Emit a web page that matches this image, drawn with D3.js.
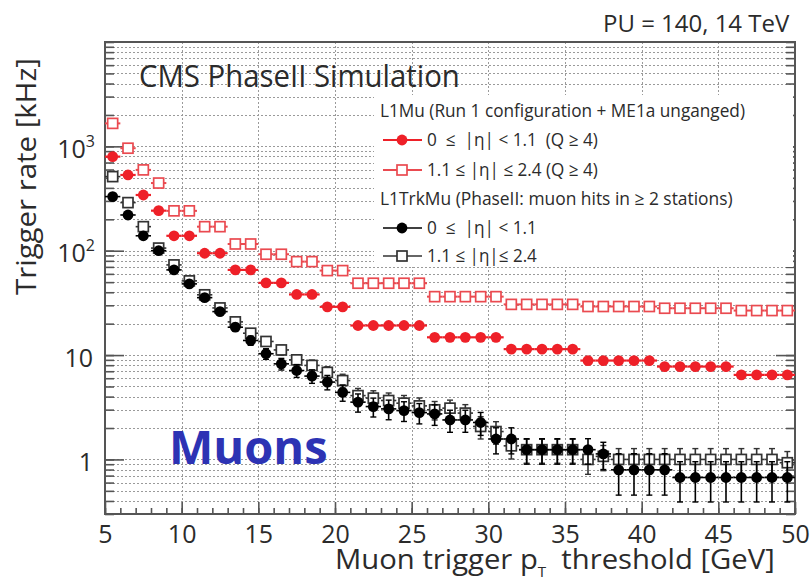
<!DOCTYPE html>
<html><head><meta charset="utf-8">
<script src="https://cdn.jsdelivr.net/npm/d3@7"></script>
<style>
body{margin:0;background:#fff}
svg{display:block}
text{font-family:"Open Sans",sans-serif;fill:#2b2b2b;white-space:pre}
</style>
</head><body>
<svg id="c" width="811" height="584"></svg>
<script>
// ---- data ----
const ptBins = [5.5,6.5,7.5,8.5,9.5,10.5,11.5,12.5,13.5,14.5,15.5,16.5,17.5,18.5,19.5,20.5,21.5,22.5,23.5,24.5,25.5,26.5,27.5,28.5,29.5,30.5,31.5,32.5,33.5,34.5,35.5,36.5,37.5,38.5,39.5,40.5,41.5,42.5,43.5,44.5,45.5,46.5,47.5,48.5,49.5];
const l1muLow = [797,532,342,242,139,139,94.6,94.6,65.5,65.5,49.2,49.2,38.1,38.1,29.0,29.0,19.2,19.2,19.2,19.2,19.2,14.8,14.8,14.8,14.8,14.8,11.4,11.4,11.4,11.4,11.4,8.86,8.86,8.86,8.86,8.86,7.76,7.76,7.76,7.76,7.76,6.46,6.46,6.46,6.46];
const l1muHigh = [1660,960,595,445,241,241,170,170,116,116,92.5,92.5,78.6,78.6,64.5,64.5,48.8,48.8,48.8,48.8,48.8,36.3,36.3,36.3,36.3,36.3,30.6,30.6,30.6,30.6,30.6,29.2,29.2,29.2,29.2,29.2,28.1,28.1,28.1,28.1,28.1,26.7,26.7,26.7,26.7];
const trkLow = [330,220,139,100,65.5,48.1,35.5,26.1,18.5,13.8,10.3,8.24,7.11,6.29,5.51,4.39,3.54,3.21,3.05,2.94,2.81,2.73,2.39,2.39,2.26,1.57,1.57,1.24,1.24,1.24,1.24,1.24,1.13,0.795,0.795,0.795,0.795,0.671,0.671,0.671,0.671,0.671,0.671,0.671,0.671];
const trkLowErr = [6.7,5.5,4.4,3.7,3.0,2.6,2.2,1.9,1.6,1.4,1.2,1.05,1.0,0.93,0.87,0.78,0.7,0.66,0.65,0.63,0.62,0.61,0.57,0.57,0.56,0.44,0.44,0.34,0.34,0.34,0.34,0.34,0.33,0.34,0.34,0.34,0.34,0.28,0.28,0.28,0.28,0.28,0.28,0.28,0.28];
const trkHigh = [513,289,170,106,73.1,51.4,37.8,28.3,20.8,16.2,13.5,11.2,9.0,7.96,6.83,5.70,4.09,3.87,3.67,3.46,3.26,2.99,3.10,2.78,2.07,1.85,1.35,1.24,1.24,1.24,1.24,1.0,1.07,1.0,1.0,1.0,1.0,1.0,1.0,1.0,1.0,1.0,1.0,1.0,0.93];
const trkHighErr = [8,6,4.7,3.7,3.1,2.6,2.2,1.9,1.6,1.4,1.3,1.2,1.05,1.0,0.9,0.85,0.7,0.68,0.66,0.64,0.62,0.6,0.6,0.57,0.5,0.45,0.34,0.32,0.32,0.32,0.32,0.28,0.29,0.27,0.27,0.27,0.27,0.27,0.27,0.27,0.27,0.27,0.27,0.27,0.26];
const xTicks = [5,10,15,20,25,30,35,40,45,50];
const yMajor = [1,10,100,1000];
const yMajorExp = [0,1,2,3];
const legendHeaders = ["L1Mu (Run 1 configuration + ME1a unganged)","L1TrkMu (PhaseII: muon hits in \u2265 2 stations)"];
const legendLabels = ["0  \u2264  |\u03b7| < 1.1  (Q \u2265 4)","1.1 \u2264 |\u03b7| \u2264 2.4 (Q \u2265 4)","0  \u2264  |\u03b7| < 1.1","1.1 \u2264 |\u03b7|\u2264 2.4"];

// ---- setup ----
const RED = "#ee2028", RED_OPEN = "#ea4a50", BLK = "#000", BLK_OPEN = "#333";
const svg = d3.select("#c");
const L = 105, R = 795, T = 42, B = 514;
const x = d3.scaleLinear().domain([5,50]).range([L,R]);
const y = d3.scaleLog().domain([0.3,10000]).range([B,T]);

function fitX(sel, x0, x1){
  const b = sel.node().getBBox();
  const sx = (x1-x0)/b.width;
  sel.attr("transform", `translate(${x0 - sx*b.x},0) scale(${sx},1)`);
}

svg.append("defs").append("clipPath").attr("id","pc")
  .append("rect").attr("x",L).attr("y",T).attr("width",R-L).attr("height",B-T);

// ---- grid ----
const grid = svg.append("g").attr("stroke","#9a9a9a").attr("stroke-width",1).attr("stroke-dasharray","2,2");
grid.selectAll("line.h").data(y.ticks()).join("line")
  .attr("x1",L).attr("x2",R).attr("y1",d=>Math.round(y(d))+0.5).attr("y2",d=>Math.round(y(d))+0.5);
grid.selectAll("line.v").data(xTicks.slice(1,-1)).join("line")
  .attr("y1",T).attr("y2",B).attr("x1",d=>Math.round(x(d))+0.5).attr("x2",d=>Math.round(x(d))+0.5);

// ---- axes ----
const axCol = "#555";
const minorX = x.ticks(45);
const gxMinor = svg.append("g").attr("transform",`translate(0,${B})`)
  .call(d3.axisBottom(x).tickValues(minorX).tickSize(-6).tickFormat(""));
const gx = svg.append("g").attr("transform",`translate(0,${B})`)
  .call(d3.axisBottom(x).tickValues(xTicks).tickSize(-12).tickPadding(11));
gx.selectAll("text").attr("font-size",25).attr("font-family","Open Sans").attr("fill","#2b2b2b");

const yTicksAll = y.ticks();
const gyMinor = svg.append("g").attr("transform",`translate(${L},0)`)
  .call(d3.axisLeft(y).tickValues(yTicksAll).tickSize(-9).tickFormat(""));
const gy = svg.append("g").attr("transform",`translate(${L},0)`)
  .call(d3.axisLeft(y).tickValues(yMajor).tickSize(-19).tickFormat(""));
const gyrMinor = svg.append("g").attr("transform",`translate(${R},0)`)
  .call(d3.axisRight(y).tickValues(yTicksAll).tickSize(-9).tickFormat(""));
const gyr = svg.append("g").attr("transform",`translate(${R},0)`)
  .call(d3.axisRight(y).tickValues(yMajor).tickSize(-19).tickFormat(""));
[gxMinor,gx,gyMinor,gy,gyrMinor,gyr].forEach(g=>{
  g.select(".domain").remove();
  g.selectAll("line").attr("stroke",axCol).attr("stroke-width",1.6);
});

// y labels
const yl = svg.append("g");
yMajor.forEach((v,i)=>{
  const e = yMajorExp[i];
  const t = yl.append("text").attr("text-anchor","end").attr("font-size",25)
    .attr("y", y(v)+11.5);
  if (e >= 2) {
    t.attr("x", L-10);
    t.append("tspan").text("10");
    t.append("tspan").attr("font-size",16).attr("dy",-11).text(String(e));
  } else {
    t.attr("x", L-12).text(e===1 ? "10" : "1");
  }
});

// frame
svg.append("rect").attr("x",L).attr("y",T).attr("width",R-L).attr("height",B-T)
  .attr("fill","none").attr("stroke",axCol).attr("stroke-width",2);

// ---- data ----
const plot = svg.append("g").attr("clip-path","url(#pc)");
function series(vals, errs, color, open, lw){
  const g = plot.append("g");
  const pts = ptBins.map((b,i)=>({b, v:vals[i], e: errs ? errs[i] : 0}));
  g.selectAll("line.hx").data(pts).join("line")
    .attr("x1",d=>x(d.b-0.5)).attr("x2",d=>x(d.b+0.5))
    .attr("y1",d=>y(d.v)).attr("y2",d=>y(d.v))
    .attr("stroke",color).attr("stroke-width",lw);
  if (errs){
    const lo = d=>y(Math.max(d.v-d.e,0.05)), hi = d=>y(d.v+d.e);
    g.selectAll("line.vy").data(pts).join("line")
      .attr("x1",d=>x(d.b)).attr("x2",d=>x(d.b)).attr("y1",hi).attr("y2",lo)
      .attr("stroke",color).attr("stroke-width",1.6);
    g.selectAll("line.cap1").data(pts).join("line")
      .attr("x1",d=>x(d.b)-3).attr("x2",d=>x(d.b)+3).attr("y1",hi).attr("y2",hi)
      .attr("stroke",color).attr("stroke-width",1.4);
    g.selectAll("line.cap2").data(pts).join("line")
      .attr("x1",d=>x(d.b)-3).attr("x2",d=>x(d.b)+3).attr("y1",lo).attr("y2",lo)
      .attr("stroke",color).attr("stroke-width",1.4);
  }
  if (open){
    g.selectAll("rect").data(pts).join("rect")
      .attr("x",d=>x(d.b)-5).attr("y",d=>y(d.v)-5).attr("width",10).attr("height",10)
      .attr("fill","#fff").attr("stroke",color).attr("stroke-width",1.7);
  } else {
    g.selectAll("circle").data(pts).join("circle")
      .attr("cx",d=>x(d.b)).attr("cy",d=>y(d.v)).attr("r",5.4).attr("fill",color);
  }
}
series(l1muHigh, null, RED_OPEN, true, 2);
series(l1muLow, null, RED, false, 2.2);
series(trkHigh, trkHighErr, BLK_OPEN, true, 1.6);
series(trkLow, trkLowErr, BLK, false, 1.6);

// ---- texts ----
const pu = svg.append("text").attr("x",603).attr("y",32).attr("font-size",24).text("PU = 140, 14 TeV");
fitX(pu, 603, 790);
const cms = svg.append("text").attr("x",139).attr("y",87).attr("font-size",31).text("CMS PhaseII Simulation");
fitX(cms, 139, 460);

svg.append("text").attr("x",169).attr("y",464)
  .attr("font-family","'Liberation Sans', Arial, sans-serif").attr("font-weight","bold")
  .attr("font-size",47).style("fill","#2d33b4").text("Muons");

// axis titles
const ytg = svg.append("g").attr("transform","translate(36,295) rotate(-90)");
const yt = ytg.append("text").attr("x",0).attr("y",0).attr("font-size",28).text("Trigger rate [kHz]");
fitX(yt, 0, 237);

const xt = svg.append("text").attr("x",335).attr("y",569).attr("font-size",27);
xt.append("tspan").text("Muon trigger p");
xt.append("tspan").attr("font-size",14).attr("dy",8).text("T");
xt.append("tspan").attr("dy",-8).text("  threshold [GeV]");
fitX(xt, 335, 775);

// ---- legend ----
const lg = svg.append("g");
lg.append("rect").attr("x",374).attr("y",95).attr("width",419).attr("height",172).attr("fill","#fff");
const h1 = lg.append("text").attr("x",380).attr("y",117).attr("font-size",18).text(legendHeaders[0]);
fitX(h1, 380, 745);
const h2 = lg.append("text").attr("x",380).attr("y",205).attr("font-size",18).text(legendHeaders[1]);
fitX(h2, 380, 733);
const entries = [
  {row:140, color:RED, open:false, lw:2.2, label:legendLabels[0], end:598},
  {row:170, color:RED_OPEN, open:true, lw:2, label:legendLabels[1], end:598},
  {row:228, color:BLK, open:false, lw:1.6, label:legendLabels[2], end:537},
  {row:256, color:BLK_OPEN, open:true, lw:1.6, label:legendLabels[3], end:537}
];
entries.forEach(en=>{
  lg.append("line").attr("x1",383).attr("x2",422).attr("y1",en.row).attr("y2",en.row)
    .attr("stroke",en.color).attr("stroke-width",en.lw);
  if (en.open) lg.append("rect").attr("x",397).attr("y",en.row-5).attr("width",10).attr("height",10)
    .attr("fill","#fff").attr("stroke",en.color).attr("stroke-width",1.7);
  else lg.append("circle").attr("cx",402).attr("cy",en.row).attr("r",5.4).attr("fill",en.color);
  const t = lg.append("text").attr("x",427).attr("y",en.row+6.5).attr("font-size",18).text(en.label);
  fitX(t, 427, en.end);
});
</script>
</body></html>
